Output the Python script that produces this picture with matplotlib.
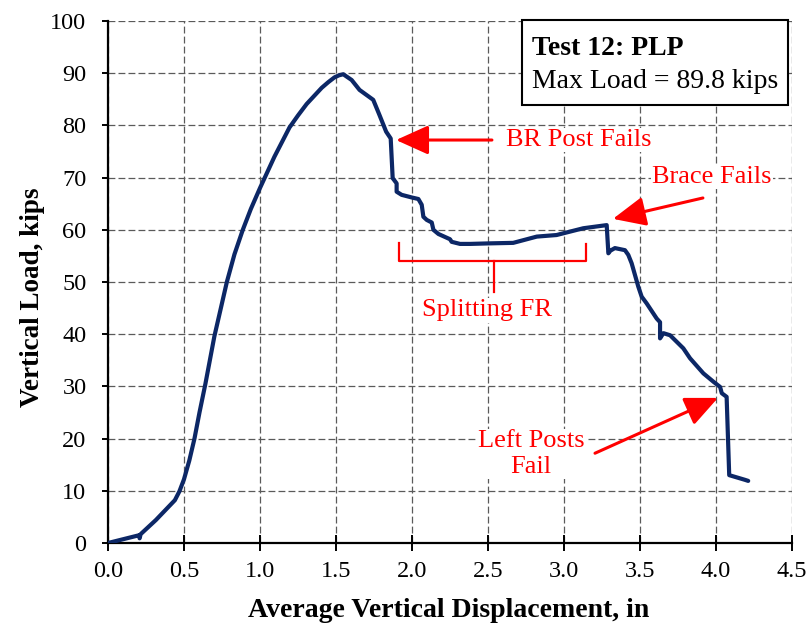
import matplotlib as mpl
import matplotlib.pyplot as plt
from matplotlib.patches import Rectangle

mpl.use('Agg')

plt.rcParams['font.family'] = ['Liberation Serif', 'DejaVu Serif']

# load-displacement record, Test 12
desloc = [0.0, 0.206, 0.208, 0.215, 0.315, 0.44, 0.47, 0.50, 0.535, 0.569, 0.602,
          0.641, 0.70, 0.745, 0.782, 0.832, 0.887, 0.94, 1.0, 1.095, 1.194, 1.25,
          1.307, 1.406, 1.45, 1.49, 1.52, 1.548, 1.603, 1.655, 1.745, 1.786, 1.83,
          1.86, 1.873, 1.899, 1.899,
          1.932, 1.998, 2.042, 2.064, 2.075, 2.097, 2.130, 2.141, 2.174, 2.250,
          2.261, 2.316, 2.382, 2.507, 2.666, 2.821, 2.951, 3.127, 3.281, 3.292,
          3.305, 3.335, 3.401, 3.423, 3.445, 3.489, 3.511, 3.544, 3.610, 3.632,
          3.632, 3.654, 3.698, 3.785, 3.829, 3.917, 3.983, 4.027, 4.038, 4.070,
          4.087, 4.191, 4.212]
carga = [0.0, 1.5, 0.9, 1.7, 4.4, 8.2, 9.9, 12.2, 15.8, 20.0, 25.0,
         30.5, 39.6, 45.3, 50.0, 55.3, 60.0, 64.0, 68.0, 74.0, 79.6, 81.9,
         84.1, 87.2, 88.3, 89.2, 89.6, 89.8, 88.7, 86.8, 84.9, 82.0, 78.8,
         77.5, 69.9, 68.9, 67.3,
         66.7, 66.2, 65.9, 64.8, 62.5, 61.9, 61.4, 60.0, 59.2, 58.2,
         57.7, 57.3, 57.3, 57.4, 57.5, 58.7, 59.0, 60.3, 60.9, 55.5,
         56.0, 56.5, 56.1, 55.2, 53.6, 49.1, 47.2, 45.9, 43.0, 42.3,
         39.2, 40.2, 39.8, 37.3, 35.4, 32.5, 30.9, 29.9, 28.7, 28.0,
         13.0, 12.1, 11.9]

xticks = [0.0, 0.5, 1.0, 1.5, 2.0, 2.5, 3.0, 3.5, 4.0, 4.5]
yticks = list(range(0, 101, 10))

vermelho = '#ff0000'

fig = plt.figure(figsize=(8.07, 6.29), dpi=100)
ax = fig.add_axes([0.1338, 0.1367, 0.8476, 0.8299])

ax.plot(desloc, carga, color='#0c2766', linewidth=3, solid_joinstyle='round',
        solid_capstyle='round', zorder=3)

ax.set_xlim(0, 4.5)
ax.set_ylim(0, 100)
ax.set_xticks(xticks)
ax.set_xticklabels(['%.1f' % v for v in xticks])
ax.set_yticks(yticks)
ax.grid(True, linestyle=(0, (5.5, 2.5)), color='#5a5a5a', linewidth=0.9)
ax.set_axisbelow(True)

for lado in ['top', 'right']:
    ax.spines[lado].set_visible(False)
for lado in ['left', 'bottom']:
    ax.spines[lado].set_linewidth(1.6)
ax.tick_params(axis='x', direction='inout', length=12, width=1.4, labelsize=17.5, pad=7)
ax.tick_params(axis='y', direction='out', length=4.5, width=1.4, labelsize=17.5, pad=11)

ax.set_xlabel('Average Vertical Displacement, in', fontsize=20, fontweight='bold', va='center')
ax.set_ylabel('Vertical Load, kips', fontsize=19.5, fontweight='bold', va='center')
ax.xaxis.set_label_coords(0.498, -0.130)
ax.yaxis.set_label_coords(-0.110, 0.471)

# caixa com o título do ensaio
ax.add_patch(Rectangle((0.6048, 0.839), 0.3894, 0.163, transform=ax.transAxes,
                       facecolor='white', edgecolor='black', linewidth=1.5,
                       clip_on=False, zorder=5))
ax.text(0.6195, 0.948, 'Test 12: PLP', transform=ax.transAxes, fontsize=20,
        fontweight='bold', va='center', ha='left', zorder=6)
ax.text(0.6195, 0.884, 'Max Load = 89.8 kips', transform=ax.transAxes, fontsize=20,
        va='center', ha='left', zorder=6)

seta = dict(arrowstyle='-|>,head_length=1.0,head_width=0.45', mutation_scale=20,
            color=vermelho, linewidth=2.2, shrinkA=0, shrinkB=0)
fundo = dict(facecolor='white', edgecolor='none', pad=1)

ax.annotate('', xy=(1.895, 77.2), xytext=(2.526, 77.2), arrowprops=seta, zorder=4)
ax.text(3.099, 77.2, 'BR Post Fails', color=vermelho, fontsize=19, va='center',
        ha='center', bbox=fundo, zorder=4)

ax.annotate('', xy=(3.322, 62.1), xytext=(3.914, 66.1), arrowprops=seta, zorder=4)
ax.text(3.974, 70.1, 'Brace Fails', color=vermelho, fontsize=19, va='center',
        ha='center', bbox=fundo, zorder=4)

ax.annotate('', xy=(4.013, 27.8), xytext=(3.204, 17.2), arrowprops=seta, zorder=4)
ax.text(2.783, 17.05, 'Left Posts\nFail', color=vermelho, fontsize=19, va='center',
        ha='center', linespacing=1.2, bbox=fundo, zorder=4)

# colchete do trecho de fendilhamento
ax.plot([1.914, 1.914, 3.145, 3.145], [57.5, 54.0, 54.0, 57.2], color=vermelho,
        linewidth=1.6, zorder=4)
ax.plot([2.539, 2.539], [54.0, 48.1], color=vermelho, linewidth=1.6, zorder=4)
ax.text(2.493, 44.6, 'Splitting FR', color=vermelho, fontsize=19, va='center',
        ha='center', bbox=fundo, zorder=4)

fig.savefig('out.png', dpi=100)
